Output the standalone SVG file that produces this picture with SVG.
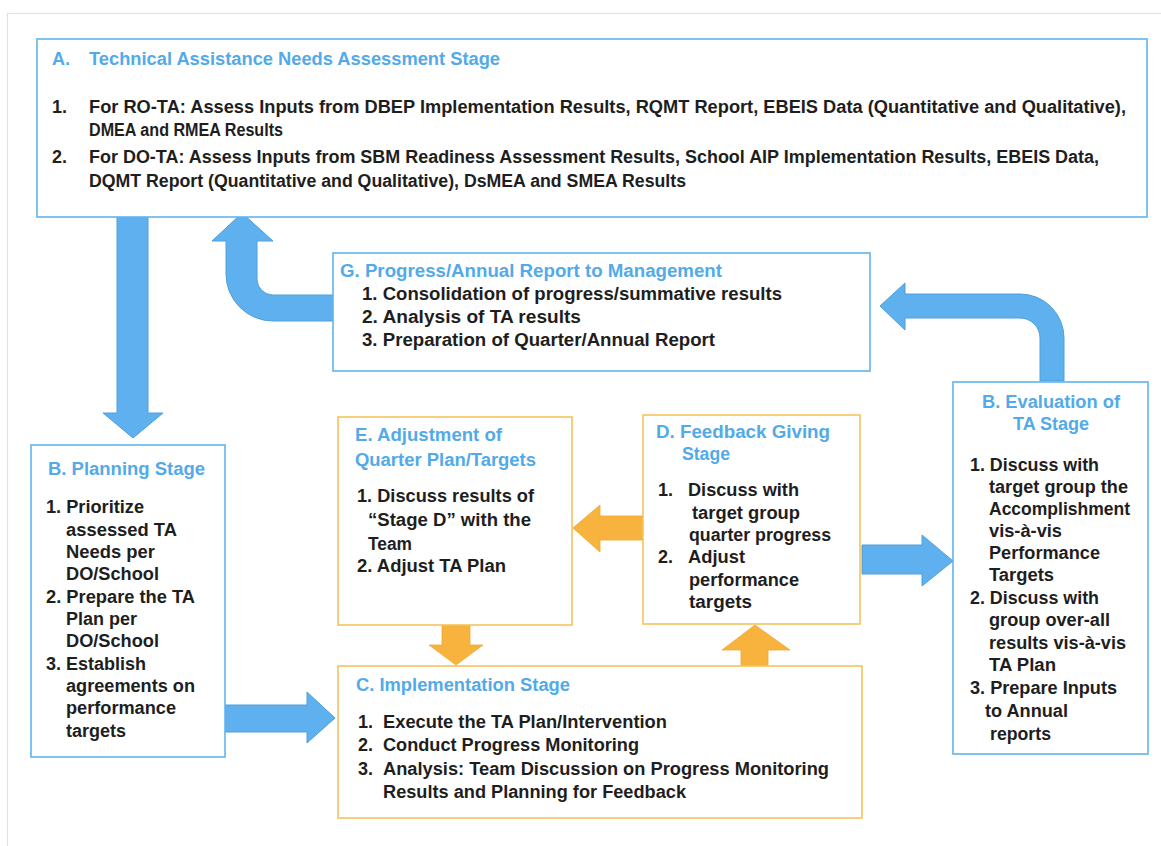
<svg xmlns="http://www.w3.org/2000/svg" width="1161" height="846" viewBox="0 0 1161 846">
  <style>
    .bg { fill: #ffffff; }
    .frame { fill: none; stroke: #e4e2d2; stroke-width: 1.2; }
    .box-blue { fill: #ffffff; stroke: #62b3ea; stroke-width: 1.6; }
    .box-orange { fill: #ffffff; stroke: #f6c45a; stroke-width: 1.6; }
    .arrow-blue { fill: #5fb0ee; stroke: #4f9fdc; stroke-width: 1; }
    .arrow-orange { fill: #f7b33e; stroke: #f0a830; stroke-width: 0.8; }
    text { font-family: "Liberation Sans", Arial, sans-serif; font-size: 18px; font-weight: bold; }
    .t { fill: #52aae8; }
    .b { fill: #1e1e1e; }
  </style>

  <rect class="bg" x="0" y="0" width="1161" height="846"/>
  <rect class="frame" x="7.5" y="13.5" width="1160" height="840"/>

  <!-- connectors -->
  <g id="connectors">
    <!-- A down to Planning -->
    <polygon class="arrow-blue" points="117,217 148,217 148,413 163,413 133,438 103,413 117,413"/>
    <!-- G back up to A -->
    <path class="arrow-blue" d="M333,321 L273,321 A47,47 0 0 1 226,274 L226,241 L212,241 L242,213 L273,241 L257,241 L257,279 A16,16 0 0 0 273,295 L333,295 Z"/>
    <!-- Evaluation up to G -->
    <path class="arrow-blue" d="M880,306 L905,283 L905,294 L1020,294 A44,44 0 0 1 1064,338 L1064,381 L1040,381 L1040,338 A20,20 0 0 0 1020,318 L905,318 L905,330 Z"/>
    <!-- Planning to Implementation -->
    <polygon class="arrow-blue" points="225,705 307,705 307,692 335,718 307,743 307,732 225,732"/>
    <!-- Feedback to Evaluation -->
    <polygon class="arrow-blue" points="862,545 922,545 922,535 953,561 922,586 922,574 862,574"/>
    <!-- Feedback to Adjustment -->
    <polygon class="arrow-orange" points="643,516 600,516 600,505 573,528 600,552 600,540 643,540"/>
    <!-- Adjustment down to Implementation -->
    <polygon class="arrow-orange" points="442,625 470,625 470,645 483,645 456,665 429,645 442,645"/>
    <!-- Implementation up to Feedback -->
    <polygon class="arrow-orange" points="741,666 768,666 768,650 790,650 755,625 722,650 741,650"/>
  </g>

  <!-- A. Needs assessment -->
  <g id="node-a">
    <rect class="box-blue" x="37" y="39" width="1110" height="178"/>
    <text class="t" x="52" y="65">A.</text>
    <text class="t" x="89" y="65" textLength="411" lengthAdjust="spacingAndGlyphs">Technical Assistance Needs Assessment Stage</text>
    <text class="b" x="52" y="113">1.</text>
    <text class="b" x="89" y="113" textLength="1037" lengthAdjust="spacingAndGlyphs">For RO-TA: Assess Inputs from DBEP Implementation Results, RQMT Report, EBEIS Data (Quantitative and Qualitative),</text>
    <text class="b" x="89" y="136" textLength="194" lengthAdjust="spacingAndGlyphs">DMEA and RMEA Results</text>
    <text class="b" x="52" y="163">2.</text>
    <text class="b" x="89" y="163" textLength="1010" lengthAdjust="spacingAndGlyphs">For DO-TA: Assess Inputs from SBM Readiness Assessment Results, School AIP Implementation Results, EBEIS Data,</text>
    <text class="b" x="89" y="187" textLength="597" lengthAdjust="spacingAndGlyphs">DQMT Report (Quantitative and Qualitative), DsMEA and SMEA Results</text>
  </g>

  <!-- G. Report to management -->
  <g id="node-g">
    <rect class="box-blue" x="333" y="253" width="537" height="118"/>
    <text class="t" x="340" y="277" textLength="382" lengthAdjust="spacingAndGlyphs">G. Progress/Annual Report to Management</text>
    <text class="b" x="362" y="300" textLength="420" lengthAdjust="spacingAndGlyphs">1. Consolidation of progress/summative results</text>
    <text class="b" x="362" y="323" textLength="219" lengthAdjust="spacingAndGlyphs">2. Analysis of TA results</text>
    <text class="b" x="362" y="346" textLength="353" lengthAdjust="spacingAndGlyphs">3. Preparation of Quarter/Annual Report</text>
  </g>

  <!-- B. Planning -->
  <g id="node-planning">
    <rect class="box-blue" x="31" y="445" width="194" height="312"/>
    <text class="t" x="48" y="475" textLength="157" lengthAdjust="spacingAndGlyphs">B. Planning Stage</text>
    <text class="b" x="46" y="513" textLength="98" lengthAdjust="spacingAndGlyphs">1. Prioritize</text>
    <text class="b" x="66" y="536" textLength="111" lengthAdjust="spacingAndGlyphs">assessed TA</text>
    <text class="b" x="66" y="558" textLength="89" lengthAdjust="spacingAndGlyphs">Needs per</text>
    <text class="b" x="66" y="580" textLength="93" lengthAdjust="spacingAndGlyphs">DO/School</text>
    <text class="b" x="46" y="603" textLength="149" lengthAdjust="spacingAndGlyphs">2. Prepare the TA</text>
    <text class="b" x="66" y="625" textLength="71" lengthAdjust="spacingAndGlyphs">Plan per</text>
    <text class="b" x="66" y="647" textLength="93" lengthAdjust="spacingAndGlyphs">DO/School</text>
    <text class="b" x="46" y="670" textLength="100" lengthAdjust="spacingAndGlyphs">3. Establish</text>
    <text class="b" x="66" y="692" textLength="129" lengthAdjust="spacingAndGlyphs">agreements on</text>
    <text class="b" x="66" y="714" textLength="110" lengthAdjust="spacingAndGlyphs">performance</text>
    <text class="b" x="66" y="737" textLength="60" lengthAdjust="spacingAndGlyphs">targets</text>
  </g>

  <!-- E. Adjustment -->
  <g id="node-e">
    <rect class="box-orange" x="338" y="417" width="234" height="208"/>
    <text class="t" x="355" y="441" textLength="147" lengthAdjust="spacingAndGlyphs">E. Adjustment of</text>
    <text class="t" x="355" y="466" textLength="181" lengthAdjust="spacingAndGlyphs">Quarter Plan/Targets</text>
    <text class="b" x="357" y="502" textLength="177" lengthAdjust="spacingAndGlyphs">1. Discuss results of</text>
    <text class="b" x="368" y="526" textLength="163" lengthAdjust="spacingAndGlyphs">“Stage D” with the</text>
    <text class="b" x="368" y="550" textLength="44" lengthAdjust="spacingAndGlyphs">Team</text>
    <text class="b" x="357" y="572" textLength="149" lengthAdjust="spacingAndGlyphs">2. Adjust TA Plan</text>
  </g>

  <!-- D. Feedback -->
  <g id="node-d">
    <rect class="box-orange" x="643" y="415" width="217" height="209"/>
    <text class="t" x="656" y="438" textLength="174" lengthAdjust="spacingAndGlyphs">D. Feedback Giving</text>
    <text class="t" x="682" y="460" textLength="48" lengthAdjust="spacingAndGlyphs">Stage</text>
    <text class="b" x="658" y="496">1.</text>
    <text class="b" x="688" y="496" textLength="111" lengthAdjust="spacingAndGlyphs">Discuss with</text>
    <text class="b" x="692" y="519" textLength="108" lengthAdjust="spacingAndGlyphs">target group</text>
    <text class="b" x="689" y="541" textLength="142" lengthAdjust="spacingAndGlyphs">quarter progress</text>
    <text class="b" x="658" y="563">2.</text>
    <text class="b" x="688" y="563" textLength="57" lengthAdjust="spacingAndGlyphs">Adjust</text>
    <text class="b" x="689" y="586" textLength="110" lengthAdjust="spacingAndGlyphs">performance</text>
    <text class="b" x="689" y="608" textLength="63" lengthAdjust="spacingAndGlyphs">targets</text>
  </g>

  <!-- C. Implementation -->
  <g id="node-c">
    <rect class="box-orange" x="338" y="666" width="524" height="152"/>
    <text class="t" x="356" y="691" textLength="214" lengthAdjust="spacingAndGlyphs">C. Implementation Stage</text>
    <text class="b" x="358" y="728">1.</text>
    <text class="b" x="383" y="728" textLength="284" lengthAdjust="spacingAndGlyphs">Execute the TA Plan/Intervention</text>
    <text class="b" x="358" y="751">2.</text>
    <text class="b" x="383" y="751" textLength="256" lengthAdjust="spacingAndGlyphs">Conduct Progress Monitoring</text>
    <text class="b" x="358" y="775">3.</text>
    <text class="b" x="383" y="775" textLength="446" lengthAdjust="spacingAndGlyphs">Analysis: Team Discussion on Progress Monitoring</text>
    <text class="b" x="383" y="798" textLength="303" lengthAdjust="spacingAndGlyphs">Results and Planning for Feedback</text>
  </g>

  <!-- B. Evaluation -->
  <g id="node-evaluation">
    <rect class="box-blue" x="953" y="382" width="195" height="372"/>
    <text class="t" x="982" y="408" textLength="138" lengthAdjust="spacingAndGlyphs">B. Evaluation of</text>
    <text class="t" x="1013" y="430" textLength="76" lengthAdjust="spacingAndGlyphs">TA Stage</text>
    <text class="b" x="970" y="471" textLength="129" lengthAdjust="spacingAndGlyphs">1. Discuss with</text>
    <text class="b" x="989" y="493" textLength="139" lengthAdjust="spacingAndGlyphs">target group the</text>
    <text class="b" x="989" y="515" textLength="141" lengthAdjust="spacingAndGlyphs">Accomplishment</text>
    <text class="b" x="989" y="537" textLength="73" lengthAdjust="spacingAndGlyphs">vis-à-vis</text>
    <text class="b" x="989" y="559" textLength="111" lengthAdjust="spacingAndGlyphs">Performance</text>
    <text class="b" x="989" y="581" textLength="65" lengthAdjust="spacingAndGlyphs">Targets</text>
    <text class="b" x="970" y="604" textLength="129" lengthAdjust="spacingAndGlyphs">2. Discuss with</text>
    <text class="b" x="989" y="626" textLength="121" lengthAdjust="spacingAndGlyphs">group over-all</text>
    <text class="b" x="989" y="649" textLength="137" lengthAdjust="spacingAndGlyphs">results vis-à-vis</text>
    <text class="b" x="989" y="671" textLength="67" lengthAdjust="spacingAndGlyphs">TA Plan</text>
    <text class="b" x="970" y="694" textLength="147" lengthAdjust="spacingAndGlyphs">3. Prepare Inputs</text>
    <text class="b" x="985" y="717" textLength="83" lengthAdjust="spacingAndGlyphs">to Annual</text>
    <text class="b" x="990" y="740" textLength="61" lengthAdjust="spacingAndGlyphs">reports</text>
  </g>
</svg>
